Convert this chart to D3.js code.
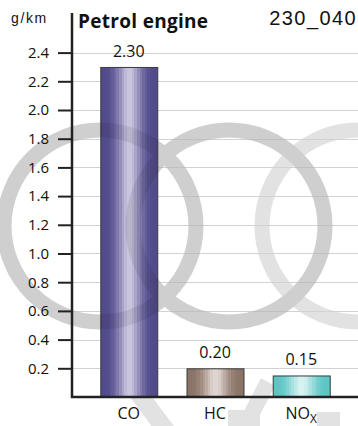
<!DOCTYPE html>
<html><head><meta charset="utf-8">
<script src="https://cdn.jsdelivr.net/npm/d3@7"></script>
<style>
html,body{margin:0;padding:0;background:#fff;}
svg{display:block;font-family:"Open Sans",Lato,sans-serif;}
</style></head>
<body>
<svg id="chart" width="358" height="426"></svg>
<script>
const categories = ["CO", "HC", "NOx"];
const values = [2.30, 0.20, 0.15];
const valueLabels = ["2.30", "0.20", "0.15"];
const yTicks = [0.2, 0.4, 0.6, 0.8, 1.0, 1.2, 1.4, 1.6, 1.8, 2.0, 2.2, 2.4];
const barColors = [
  {edge:"#514a8b", mid:"#8a84b6", light:"#e9e7f2"},
  {edge:"#8a7266", mid:"#b8a69d", light:"#f3eeeb"},
  {edge:"#5cc6c4", mid:"#a3e0de", light:"#f2fbfb"}
];

const svg = d3.select("#chart");
const W = 358, H = 426;
const x0 = 72, baseY = 397;
const FONT = "'Open Sans',Lato,sans-serif";

const x = d3.scaleBand().domain(categories).range([x0, W])
  .paddingInner(0.339).paddingOuter(0.328).align(0.5);
const y = d3.scaleLinear().domain([0, 2.4]).range([baseY, 52.6]);

const defs = svg.append("defs");
barColors.forEach((c, i) => {
  const g = defs.append("linearGradient").attr("id", "g" + i)
    .attr("x1", "0%").attr("x2", "100%").attr("y1", "0%").attr("y2", "0%");
  const interp = d3.interpolateRgbBasis([c.edge, c.edge, c.mid, c.light, c.mid, c.edge, c.edge]);
  const steps = 22;
  for (let k = 0; k < steps; k++) {
    const col = interp((k + 0.5) / steps);
    g.append("stop").attr("offset", (k / steps * 100) + "%").attr("stop-color", col);
    g.append("stop").attr("offset", ((k + 1) / steps * 100) + "%").attr("stop-color", col);
  }
});

// watermark (decorative rings) drawn first, under the chart, very light
const wm = svg.append("g").attr("pointer-events", "none").attr("opacity", 0.11);
[100, 229, 358].forEach(cx => {
  wm.append("circle").attr("cx", cx).attr("cy", 226).attr("r", 96)
    .attr("fill", "none").attr("stroke", "#000").attr("stroke-width", 15);
});
wm.append("line").attr("x1", 130).attr("y1", 382).attr("x2", 170).attr("y2", 436)
  .attr("stroke", "#000").attr("stroke-width", 18);
wm.append("line").attr("x1", 268).attr("y1", 382).attr("x2", 240).attr("y2", 436)
  .attr("stroke", "#000").attr("stroke-width", 16);
wm.append("rect").attr("x", 228).attr("y", 410).attr("width", 32).attr("height", 16).attr("fill", "#000");
wm.append("rect").attr("x", 317).attr("y", 412).attr("width", 23).attr("height", 14).attr("fill", "#000");

// gridlines
svg.append("g").selectAll("line").data(yTicks).join("line")
  .attr("x1", x0).attr("x2", W)
  .attr("y1", d => Math.round(y(d)) + 0.5).attr("y2", d => Math.round(y(d)) + 0.5)
  .attr("stroke", "#d2d2d2").attr("stroke-width", 1);

// bars
svg.append("g").selectAll("rect").data(categories).join("rect")
  .attr("x", d => x(d) + 0.5)
  .attr("y", (d, i) => y(values[i]) + 0.5)
  .attr("width", x.bandwidth())
  .attr("height", (d, i) => baseY - y(values[i]))
  .attr("fill", (d, i) => "url(#g" + i + ")")
  .attr("stroke", "#3a3a3a").attr("stroke-width", 1);

// light overlay of rings over bars (multiply look)
const wm2 = svg.append("g").attr("pointer-events", "none").attr("opacity", 0.08);
[100, 229].forEach(cx => {
  wm2.append("circle").attr("cx", cx).attr("cy", 226).attr("r", 96)
    .attr("fill", "none").attr("stroke", "#000").attr("stroke-width", 15);
});

// value labels
svg.append("g").selectAll("text").data(categories).join("text")
  .attr("x", d => x(d) + x.bandwidth() / 2)
  .attr("y", (d, i) => y(values[i]) - 10)
  .attr("text-anchor", "middle").attr("font-size", 16).attr("fill", "#111")
  .text((d, i) => valueLabels[i]);

// y axis
const yAxis = d3.axisLeft(y).tickValues(yTicks).tickFormat(d3.format(".1f"))
  .tickSize(14).tickPadding(9);
const ya = svg.append("g").attr("transform", `translate(${x0},0)`).call(yAxis);
ya.select(".domain").remove();
ya.selectAll(".tick line").attr("stroke", "#222").attr("stroke-width", 2);
ya.selectAll(".tick text").attr("font-size", 15).attr("fill", "#111")
  .attr("font-family", FONT);
svg.append("line").attr("x1", x0).attr("x2", x0).attr("y1", 13).attr("y2", baseY + 1)
  .attr("stroke", "#222").attr("stroke-width", 2.5);
svg.append("line").attr("x1", x0 - 1).attr("x2", W).attr("y1", baseY).attr("y2", baseY)
  .attr("stroke", "#222").attr("stroke-width", 2.5);

// category labels
const cat = svg.append("g").selectAll("text").data(categories).join("text")
  .attr("x", d => x(d) + x.bandwidth() / 2)
  .attr("y", 419).attr("text-anchor", "middle").attr("font-size", 16).attr("fill", "#111");
cat.each(function(d) {
  const t = d3.select(this);
  if (d === "NOx") {
    t.append("tspan").text("NO");
    t.append("tspan").text("X").attr("font-size", 12).attr("dy", 4);
  } else t.text(d);
});

// titles
svg.append("text").attr("x", 11).attr("y", 23).attr("font-size", 14).attr("fill", "#111")
  .attr("font-family", "'Liberation Sans',Arial,sans-serif")
  .attr("letter-spacing", 1.6).text("g/km");
svg.append("text").attr("x", 78).attr("y", 28).attr("font-size", 19).attr("font-weight", "bold")
  .attr("letter-spacing", 0.3).attr("fill", "#111").text("Petrol engine");
svg.append("text").attr("x", 357).attr("y", 25).attr("text-anchor", "end").attr("font-size", 20)
  .attr("font-family", "'Liberation Sans',Arial,sans-serif")
  .attr("letter-spacing", 1.4).attr("fill", "#111").text("230_040");
</script>
</body></html>
